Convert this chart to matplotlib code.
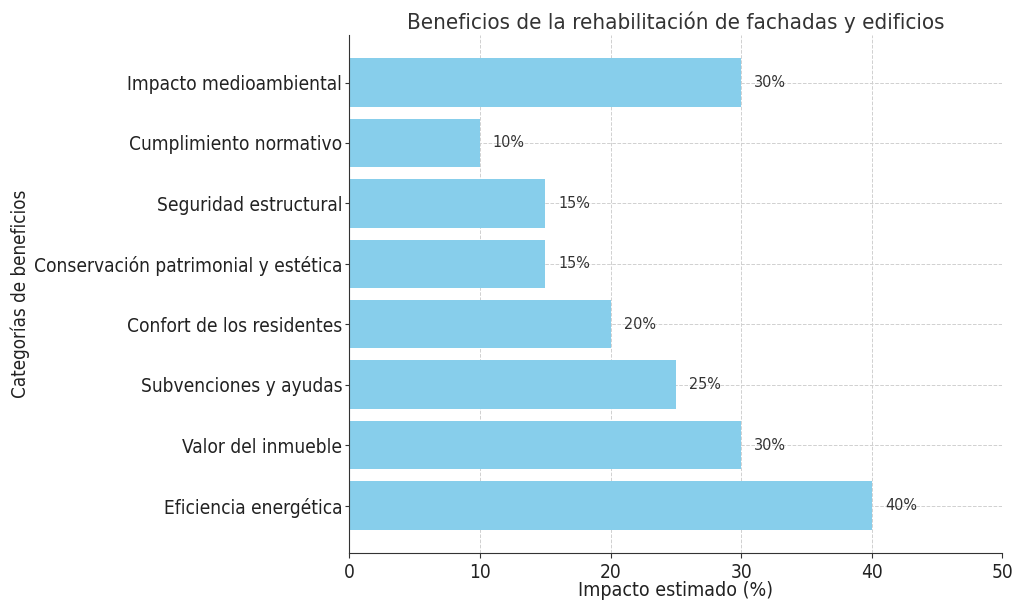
import matplotlib.pyplot as plt

categories = [
    "Eficiencia energética",
    "Valor del inmueble",
    "Subvenciones y ayudas",
    "Confort de los residentes",
    "Conservación patrimonial y estética",
    "Seguridad estructural",
    "Cumplimiento normativo",
    "Impacto medioambiental",
]
impact = [40, 30, 25, 20, 15, 15, 10, 30]
xticks = [0, 10, 20, 30, 40, 50]

plt.rcParams["font.family"] = ["DejaVu Sans"]
plt.rcParams["font.stretch"] = "condensed"

fig = plt.figure(figsize=(10.24, 6.1), dpi=100)
ax = fig.add_axes([0.341, 0.093, 0.638, 0.85])

bars = ax.barh(categories, impact, height=0.8, color="#87CEEB", zorder=2)
for bar, v in zip(bars, impact):
    ax.text(v + 1, bar.get_y() + bar.get_height() / 2, f"{v}%",
            va="center", ha="left", fontsize=11.5, color="#333333")

ax.set_xlim(0, 50)
ax.set_xticks(xticks)
ax.grid(True, linestyle="--", color="#d0d0d0", linewidth=0.7, zorder=0)
ax.spines["top"].set_visible(False)
ax.spines["right"].set_visible(False)
for s in ("left", "bottom"):
    ax.spines[s].set_color("#333333")
ax.tick_params(axis="both", labelsize=13.7, colors="#333333", labelcolor="#222222")
ax.tick_params(axis="y", length=3, pad=2)

ax.set_title("Beneficios de la rehabilitación de fachadas y edificios",
             fontsize=16, color="#333333", pad=4)
ax.set_xlabel("Impacto estimado (%)", fontsize=14, color="#222222", labelpad=-1)
ax.set_ylabel("Categorías de beneficios", fontsize=13.5, color="#222222", labelpad=3)

fig.savefig("out.png", dpi=100)
